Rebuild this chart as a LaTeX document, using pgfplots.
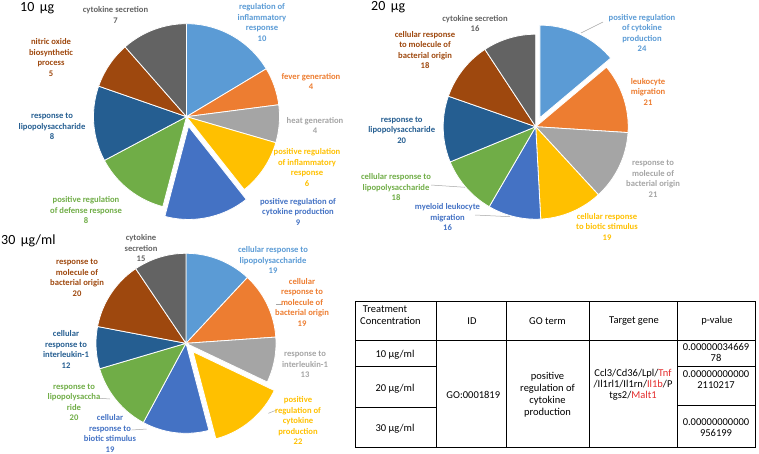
\documentclass[border=0pt]{standalone}
\usepackage{pgfplots}
\pgfplotsset{compat=1.18}
\usepackage{pgfplotstable}
\usepackage{fontspec}
\setmainfont{Carlito}
\definecolor{pc0}{HTML}{5B9BD5}
\definecolor{pc1}{HTML}{ED7D31}
\definecolor{pc2}{HTML}{A5A5A5}
\definecolor{pc3}{HTML}{FFC000}
\definecolor{pc4}{HTML}{4472C4}
\definecolor{pc5}{HTML}{70AD47}
\definecolor{pc6}{HTML}{255E91}
\definecolor{pc7}{HTML}{9E480E}
\definecolor{pc8}{HTML}{636363}
\definecolor{gred}{HTML}{E32B2B}
\definecolor{leader}{HTML}{A6A6A6}

% counts, clockwise from 12 o'clock
\pgfplotstableread{
v
10
4
4
6
9
8
8
5
7
}\tabA
\pgfplotstableread{
v
24
21
21
19
16
18
20
18
16
}\tabB
\pgfplotstableread{
v
19
19
13
22
19
20
12
20
15
}\tabC

% #1 table, #2 exploded row, #3 explode distance (fraction of radius)
\newcommand\drawpie[3]{%
  \def\tot{0}%
  \pgfplotsforeachungrouped \i in {0,...,8}{%
    \pgfplotstablegetelem{\i}{v}\of{#1}%
    \pgfmathsetmacro\tot{\tot+\pgfplotsretval}%
  }%
  \def\cum{0}%
  \pgfplotsforeachungrouped \i in {0,...,8}{%
    \pgfplotstablegetelem{\i}{v}\of{#1}%
    \pgfmathsetmacro\aS{90-360*(\cum/\tot)}%
    \pgfmathsetmacro\cum{\cum+\pgfplotsretval}%
    \pgfmathsetmacro\aE{90-360*(\cum/\tot)}%
    \pgfmathsetmacro\aM{(\aS+\aE)/2}%
    \ifnum\i=#2\relax \def\off{#3}\else\def\off{0}\fi
    \pgfmathsetmacro\dx{\off*cos(\aM)}%
    \pgfmathsetmacro\dy{\off*sin(\aM)}%
    \edef\doit{\noexpand\addplot[fill=pc\i, draw=white, line width=0.8pt, line join=round, domain=\aE:\aS, samples=60, variable=\noexpand\t] ({\dx+cos(\noexpand\t)},{\dy+sin(\noexpand\t)}) -- (axis cs:\dx,\dy) -- cycle;}%
    \doit
  }%
}

\pgfplotsset{pie/.style={anchor=south west, scale only axis, hide axis,
  xmin=-1, xmax=1, ymin=-1, ymax=1, clip=false}}

\tikzset{
  lbl/.style={align=center, inner sep=0pt, font=\fontsize{8.6}{10.5}\selectfont\bfseries},
  ttl/.style={inner sep=0pt, font=\fontsize{14}{16}\selectfont},
  tb/.style={inner sep=0pt, align=center, font=\fontsize{10.5}{11}\selectfont},
  ld/.style={draw=leader, line width=0.5pt}
}

\begin{document}
\begin{tikzpicture}
\useasboundingbox (0pt,0pt) rectangle (759pt,-454pt);

% ---------- Pie 1 (centre 186.5,-116.7; r 93) ----------
\begin{axis}[pie, at={(93.5pt,-209.7pt)}, width=186pt, height=186pt]
\drawpie{\tabA}{4}{0.107}
\end{axis}
% ---------- Pie 2 (centre 535.7,-126.7; r 92.5) ----------
\begin{axis}[pie, at={(443.2pt,-219.2pt)}, width=185pt, height=185pt]
\drawpie{\tabB}{0}{0.108}
\end{axis}
% ---------- Pie 3 (centre 186,-343.3; r 90) ----------
\begin{axis}[pie, at={(96pt,-433.3pt)}, width=180pt, height=180pt]
\drawpie{\tabC}{3}{0.122}
\end{axis}

\begin{scope}[x=1pt,y=1pt]
% titles
\node[ttl, anchor=base west] at (20,-12) {10\ \,µg};
\node[ttl, anchor=base west] at (371,-11) {20\ \,µg};
\node[ttl, anchor=base west] at (1,-244.3) {30\ \,µg/ml};

% labels pie 1
\node[lbl, text=pc8] at (115.5,-15) {cytokine secretion\\7};
\node[lbl, text=pc0] at (262,-22.5) {regulation of\\inflammatory\\response\\10};
\node[lbl, text=pc1] at (311,-81.5) {fever generation\\4};
\node[lbl, text=pc2] at (315,-125.5) {heat generation\\4};
\node[lbl, text=pc3] at (307,-167.5) {positive regulation\\of inflammatory\\response\\6};
\node[lbl, text=pc4] at (298,-211.5) {positive regulation of\\cytokine production\\9};
\node[lbl, text=pc5] at (86,-210.5) {positive regulation\\of defense response\\8};
\node[lbl, text=pc6] at (52,-126.5) {response to\\lipopolysaccharide\\8};
\node[lbl, text=pc7] at (51,-57.5) {nitric oxide\\biosynthetic\\process\\5};

% labels pie 2
\draw[ld] (581,-33) -- (603,-22);
\draw[ld] (431,-185) -- (465,-187.3);
\draw[ld] (475,-215) -- (510,-216.7);
\node[lbl, text=pc8] at (475,-23.5) {cytokine secretion\\16};
\node[lbl, text=pc0] at (642,-33) {positive regulation\\of cytokine\\production\\24};
\node[lbl, text=pc1] at (648,-91.5) {leukocyte\\migration\\21};
\node[lbl, text=pc2] at (653,-179) {response to\\molecule of\\bacterial origin\\21};
\node[lbl, text=pc3] at (607,-226.5) {cellular response\\to biotic stimulus\\19};
\node[lbl, text=pc4] at (447.5,-217.5) {myeloid leukocyte\\migration\\16};
\node[lbl, text=pc5] at (396,-187.5) {cellular response to\\lipopolysaccharide\\18};
\node[lbl, text=pc6] at (401.7,-130.3) {response to\\lipopolysaccharide\\20};
\node[lbl, text=pc7] at (425,-50) {cellular response\\to molecule of\\bacterial origin\\18};

% labels pie 3
\draw[ld] (276,-304) -- (282,-304);
\draw[ld] (268.3,-413.3) -- (276.7,-410);
\draw[ld] (131.7,-430) -- (146.7,-429);
\draw[ld] (100,-398.3) -- (110,-399);
\node[lbl, text=pc8] at (141,-248.5) {cytokine\\secretion\\15};
\node[lbl, text=pc0] at (273,-260) {cellular response to\\lipopolysaccharide\\19};
\node[lbl, text=pc1] at (302,-302) {cellular\\response to\\molecule of\\bacterial origin\\19};
\node[lbl, text=pc2] at (305,-364.5) {response to\\interleukin-1\\13};
\node[lbl, text=pc3] at (298,-420.5) {positive\\regulation of\\cytokine\\production\\22};
\node[lbl, text=pc4] at (110,-433.5) {cellular\\response to\\biotic stimulus\\19};
\node[lbl, text=pc5] at (74,-402.5) {response to\\lipopolysaccha\\ride\\20};
\node[lbl, text=pc6] at (66,-349.5) {cellular\\response to\\interleukin-1\\12};
\node[lbl, text=pc7] at (77,-278) {response to\\molecule of\\bacterial origin\\20};

% ---------- table ----------
\draw[line width=0.8pt] (355,-301.7) rectangle (755,-447.3);
\foreach \xx in {436,506.7,589.3,677.3} \draw[line width=0.8pt] (\xx,-301.7) -- (\xx,-447.3);
\draw[line width=0.8pt] (355,-340) -- (755,-340);
\draw[line width=0.8pt] (355,-366.5) -- (436,-366.5);
\draw[line width=0.8pt] (355,-407.5) -- (436,-407.5);
\draw[line width=0.8pt] (677.3,-366) -- (755,-366);
\draw[line width=0.8pt] (677.3,-405) -- (755,-405);

\node[tb, anchor=west] at (362.7,-309) {Treatment};
\node[tb, anchor=west] at (360,-320.7) {Concentration};
\node[tb] at (472,-321) {ID};
\node[tb] at (547.5,-321) {GO term};
\node[tb] at (634,-321) {Target gene};
\node[tb] at (717,-321) {p-value};
\node[tb] at (395,-355) {10 µg/ml};
\node[tb] at (395,-388.3) {20 µg/ml};
\node[tb] at (395,-428.3) {30 µg/ml};
\node[tb] at (473.3,-395) {GO:0001819};
\node[tb, font=\fontsize{10.5}{12}\selectfont] at (547.5,-395) {positive\\regulation of\\cytokine\\production};
\node[tb] at (633,-384.3) {Ccl3/Cd36/Lpl/\textcolor{gred}{Tnf}\\/Il1rl1/Il1rn/\textcolor{gred}{Il1b}/P\\tgs2/\textcolor{gred}{Malt1}};
\node[tb, font=\fontsize{10.5}{10.5}\selectfont] at (716,-352.5) {0.00000034669\\78};
\node[tb] at (716,-380) {0.00000000000\\2110217};
\node[tb] at (716,-427.7) {0.00000000000\\956199};
\end{scope}
\end{tikzpicture}
\end{document}
